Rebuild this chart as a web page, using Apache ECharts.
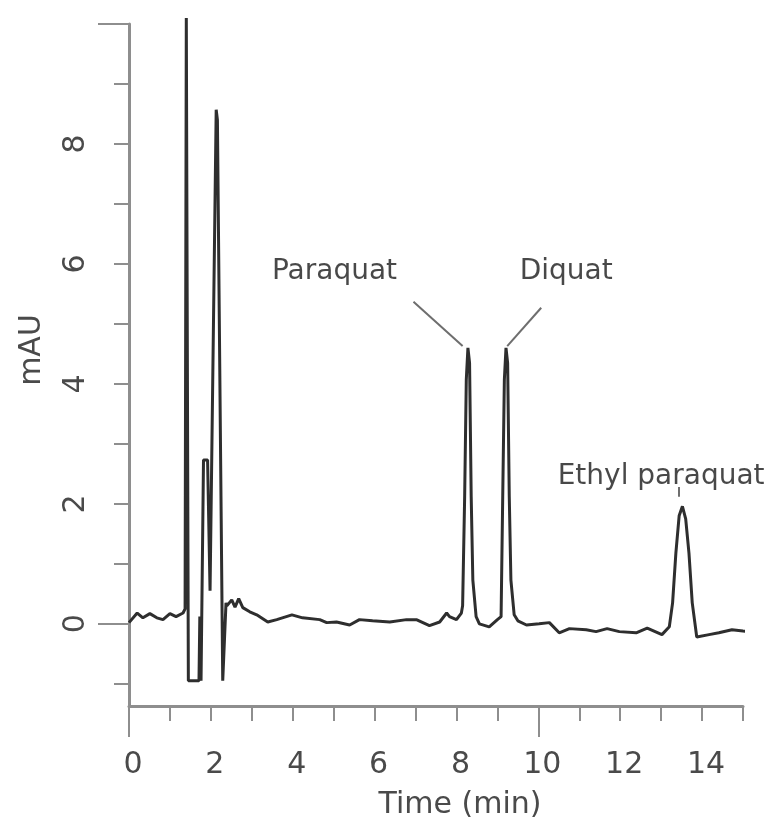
<!DOCTYPE html>
<html>
<head>
<meta charset="utf-8">
<script src="https://cdn.jsdelivr.net/npm/echarts@6/dist/echarts.min.js"></script>
<style>
html,body{margin:0;padding:0;background:#fff;}
#chart{width:778px;height:821px;}
</style>
</head>
<body>
<div id="chart"></div>
<script>
// Chromatogram trace (time in min, absorbance in mAU)
const times = [
  0.00, 0.20, 0.34, 0.51, 0.68, 0.83, 1.00, 1.15, 1.32, 1.37,
  1.40, 1.45, 1.71, 1.73, 1.76, 1.82, 1.92, 1.98, 2.13, 2.16, 2.29,
  2.37, 2.39, 2.51, 2.59, 2.68, 2.78, 2.95, 3.12, 3.39, 3.61, 3.98,
  4.24, 4.66, 4.83, 5.07, 5.39, 5.63, 5.95, 6.37, 6.78, 7.02, 7.34,
  7.59, 7.76, 7.83, 8.00, 8.12, 8.15, 8.20, 8.24, 8.28, 8.32, 8.36,
  8.40, 8.48, 8.56, 8.80, 9.00, 9.09, 9.13, 9.17, 9.21, 9.25, 9.29,
  9.33, 9.41, 9.50, 9.71, 10.02, 10.27, 10.51, 10.76, 11.17, 11.41,
  11.68, 11.98, 12.39, 12.66, 13.02, 13.20, 13.24, 13.28, 13.36, 13.44,
  13.52, 13.60, 13.68, 13.76, 13.87, 14.17, 14.41, 14.73, 15.00, 15.22, 15.34
];
const absorbance = [
  0.02, 0.18, 0.10, 0.17, 0.10, 0.07, 0.17, 0.12, 0.18, 0.25,
  10.1, -0.95, -0.95, 0.12, -0.95, 2.73, 2.73, 0.55, 8.57, 8.40, -0.95,
  0.35, 0.30, 0.40, 0.28, 0.42, 0.27, 0.20, 0.15, 0.03, 0.07, 0.15,
  0.10, 0.07, 0.02, 0.03, -0.02, 0.07, 0.05, 0.03, 0.07, 0.07, -0.03,
  0.03, 0.18, 0.12, 0.07, 0.18, 0.30, 2.12, 4.07, 4.60, 4.35, 2.12,
  0.73, 0.12, 0.00, -0.05, 0.07, 0.12, 2.12, 4.07, 4.60, 4.35, 2.12,
  0.73, 0.15, 0.05, -0.02, 0.00, 0.02, -0.15, -0.08, -0.10, -0.13,
  -0.08, -0.13, -0.15, -0.07, -0.18, -0.05, -0.05, 0.35, 1.18, 1.80,
  1.96, 1.75, 1.18, 0.35, -0.22, -0.18, -0.15, -0.10, -0.12, -0.13, -0.18
];

// Tick labels
const xTickLabels = [0, 2, 4, 6, 8, 10, 12, 14];
const xMinorTicks = [0,1,2,3,4,5,6,7,8,9,10,11,12,13,14,15];
const xMajorTicks = [0, 10];
const yTickLabels = [0, 2, 4, 6, 8];
const yMinorTicks = [-1,0,1,2,3,4,5,6,7,8,9,10];
const yMajorTicks = [0, 10];

// Peak annotations
const peakNames = ['Paraquat', 'Diquat', 'Ethyl paraquat'];
const labelTimes = [5.02, 10.68, 13.0];
const labelValues = [5.87, 5.87, 2.45];
const leaderStart = [[6.95, 5.37], [10.07, 5.27], [13.44, 2.28]];
const leaderEnd = [[8.15, 4.63], [9.24, 4.63], [13.44, 2.12]];

const AXIS = '#8e8e8e';
const LABEL = '#4a4a4a';
const FONT = 'DejaVu Sans';

const chart = echarts.init(document.getElementById('chart'));
const tracePoints = times.map((t, i) => [t, absorbance[i]]);
const labelPoints = peakNames.map((n, i) => [labelTimes[i], labelValues[i], n]);
const leaders = leaderStart.map((s, i) => [{coord: s}, {coord: leaderEnd[i]}]);

chart.setOption({
  animation: false,
  backgroundColor: '#fff',
  grid: {left: 129, right: 35, top: 24, bottom: 115, containLabel: false, outerBoundsMode: 'none'},
  xAxis: [{
    type: 'value', min: 0, max: 15, position: 'bottom',
    name: 'Time (min)', nameLocation: 'middle', nameGap: 84,
    nameTextStyle: {fontSize: 30, color: LABEL, fontFamily: FONT, padding: [0, 0, 0, 48]},
    axisLine: {show: true, onZero: false, lineStyle: {color: AXIS, width: 3}},
    axisTick: {show: true, customValues: xMinorTicks, length: 15, lineStyle: {color: AXIS, width: 2}},
    axisLabel: {customValues: xTickLabels, fontSize: 30, color: LABEL, fontFamily: FONT, margin: 44, padding: [0, 0, 0, 8]},
    splitLine: {show: false}
  }, {
    type: 'value', min: 0, max: 15, position: 'bottom', offset: 0,
    axisLine: {show: false, onZero: false},
    axisTick: {show: true, customValues: xMajorTicks, length: 31, lineStyle: {color: AXIS, width: 2}},
    axisLabel: {show: false},
    splitLine: {show: false}
  }],
  yAxis: [{
    type: 'value', min: -1.37, max: 10, position: 'left',
    name: 'mAU', nameLocation: 'middle', nameGap: 82,
    nameTextStyle: {fontSize: 30, color: LABEL, fontFamily: FONT, padding: [0, 0, 0, 30]},
    axisLine: {show: true, onZero: false, lineStyle: {color: AXIS, width: 3}},
    axisTick: {show: true, customValues: yMinorTicks, length: 15, lineStyle: {color: AXIS, width: 2}},
    axisLabel: {customValues: yTickLabels, rotate: 90, fontSize: 30, color: LABEL, fontFamily: FONT, margin: 38},
    splitLine: {show: false}
  }, {
    type: 'value', min: -1.37, max: 10, position: 'left', offset: 0,
    axisLine: {show: false, onZero: false},
    axisTick: {show: true, customValues: yMajorTicks, length: 31, lineStyle: {color: AXIS, width: 2}},
    axisLabel: {show: false},
    splitLine: {show: false}
  }],
  series: [{
    type: 'line',
    data: tracePoints,
    xAxisIndex: 0, yAxisIndex: 0,
    showSymbol: false, symbol: 'none',
    clip: false,
    lineStyle: {color: '#2e2e2e', width: 3},
    z: 3
  }, {
    type: 'scatter',
    data: labelPoints,
    xAxisIndex: 0, yAxisIndex: 0,
    symbolSize: 0,
    silent: true,
    label: {
      show: true, position: 'inside',
      formatter: p => p.data[2],
      fontSize: 28, color: '#1a1a1a', fontFamily: FONT
    },
    markLine: {
      silent: true,
      symbol: 'none',
      label: {show: false},
      lineStyle: {color: '#6e6e6e', width: 2, type: 'solid'},
      data: leaders
    }
  }]
});
</script>
</body>
</html>
